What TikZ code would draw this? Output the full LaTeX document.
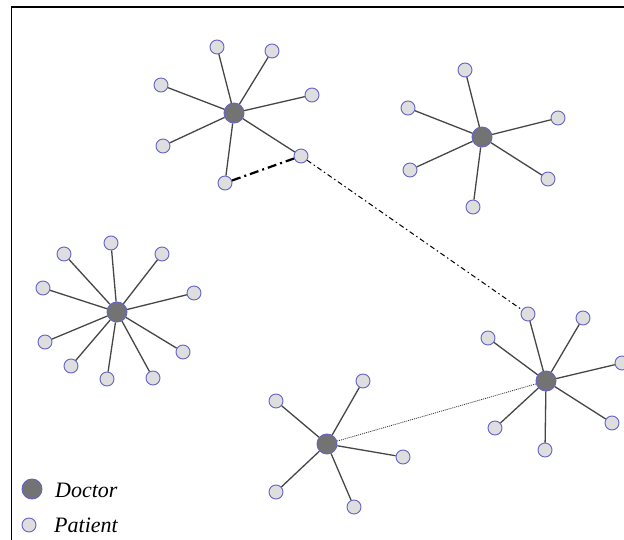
\documentclass[tikz,border=0pt]{standalone}
\usepackage{fontspec}
\setmainfont{Liberation Serif}
\definecolor{docfill}{RGB}{115,115,115}
\definecolor{patfill}{RGB}{222,222,222}
\definecolor{ringc}{RGB}{100,100,200}
\definecolor{edgec}{RGB}{70,70,70}
\tikzset{
  doc/.style={circle,draw=ringc,fill=docfill,line width=0.9pt,minimum size=20pt,inner sep=0pt},
  pat/.style={circle,draw=ringc,fill=patfill,line width=0.9pt,minimum size=14pt,inner sep=0pt},
  link/.style={draw=edgec,line width=1.3pt},
  leg/.style={font=\fontsize{22}{26}\selectfont\itshape,anchor=base west,inner sep=0pt}
}
\begin{document}
\begin{tikzpicture}[x=1pt,y=-1pt]
\useasboundingbox (0,0) rectangle (624,540);
\fill[white] (0,0) rectangle (624,540);
\draw[line width=1.6pt,black] (11.5,540) -- (11.5,7) -- (624,7);
% cluster 1
\node[doc] (d1) at (234,113) {};
\node[pat] (a1) at (217,47) {};
\node[pat] (a2) at (272,51) {};
\node[pat] (a3) at (161,85) {};
\node[pat] (a4) at (312,95) {};
\node[pat] (a5) at (163,146) {};
\node[pat] (a6) at (301,156) {};
\node[pat] (a7) at (225,183) {};
% cluster 2
\node[doc] (d2) at (482,137) {};
\node[pat] (b1) at (465,70) {};
\node[pat] (b2) at (408,108) {};
\node[pat] (b3) at (558,118) {};
\node[pat] (b4) at (410,170) {};
\node[pat] (b5) at (548,179) {};
\node[pat] (b6) at (473,207) {};
% cluster 3
\node[doc] (d3) at (117,312) {};
\node[pat] (c1) at (111,243) {};
\node[pat] (c2) at (64,254) {};
\node[pat] (c3) at (162,254) {};
\node[pat] (c4) at (43,288) {};
\node[pat] (c5) at (194,293) {};
\node[pat] (c6) at (45,342) {};
\node[pat] (c7) at (183,352) {};
\node[pat] (c8) at (71,366) {};
\node[pat] (c9) at (107,379) {};
\node[pat] (c10) at (153,378) {};
% cluster 4
\node[doc] (d4) at (327,444) {};
\node[pat] (e1) at (363,381) {};
\node[pat] (e2) at (276,401) {};
\node[pat] (e3) at (403,457) {};
\node[pat] (e4) at (276,492) {};
\node[pat] (e5) at (354,507) {};
% cluster 5
\node[doc] (d5) at (546,381) {};
\node[pat] (f1) at (528,314) {};
\node[pat] (f2) at (583,318) {};
\node[pat] (f3) at (488,338) {};
\node[pat] (f4) at (622,363) {};
\node[pat] (f5) at (495,428) {};
\node[pat] (f6) at (612,423) {};
\node[pat] (f7) at (545,450) {};
% edges
\begin{scope}[on background layer/.style={}]
\foreach \p in {a1,a2,a3,a4,a5,a6,a7} \path[link] (d1) -- (\p);
\foreach \p in {b1,b2,b3,b4,b5,b6} \path[link] (d2) -- (\p);
\foreach \p in {c1,c2,c3,c4,c5,c6,c7,c8,c9,c10} \path[link] (d3) -- (\p);
\foreach \p in {e1,e2,e3,e4,e5} \path[link] (d4) -- (\p);
\foreach \p in {f1,f2,f3,f4,f5,f6,f7} \path[link] (d5) -- (\p);
\end{scope}
\draw[black,line width=2.2pt,dash pattern=on 9pt off 4pt on 2pt off 4pt] (a7) -- (a6);
\draw[black,line width=1pt,dash pattern=on 5pt off 3pt on 1.5pt off 3pt] (a6) -- (f1);
\draw[black!80,line width=0.8pt,dash pattern=on 1pt off 1pt] (d4) -- (d5);
% legend
\node[doc] (ld) at (32,489) {};
\node[pat] (lp) at (29,525) {};
\node[leg] (ldt) at (55,497) {Doctor};
\node[leg] (lpt) at (54,532) {Patient};
\end{tikzpicture}
\end{document}
